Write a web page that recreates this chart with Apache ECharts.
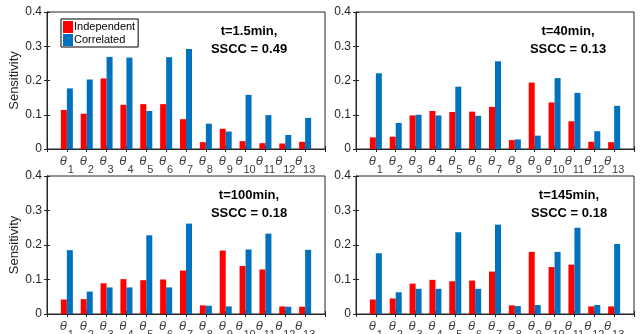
<!DOCTYPE html>
<html>
<head>
<meta charset="utf-8">
<script src="https://cdn.jsdelivr.net/npm/echarts@6/dist/echarts.min.js"></script>
<style>
  html, body { margin: 0; padding: 0; background: #fff; }
  #chart { width: 644px; height: 334px; }
</style>
</head>
<body>
<div id="chart"></div>
<script>
// parameter subscripts, theta_1 .. theta_13
var params = ['1', '2', '3', '4', '5', '6', '7', '8', '9', '10', '11', '12', '13'];
var yTicks = [0, 0.1, 0.2, 0.3, 0.4];

var panelTimes = ['1.5', '40', '100', '145'];
var panelSSCC = ['0.49', '0.13', '0.18', '0.18'];

var indep15 = [0.114, 0.103, 0.206, 0.129, 0.131, 0.131, 0.087, 0.020, 0.059, 0.023, 0.017, 0.016, 0.021];
var corr15  = [0.177, 0.203, 0.269, 0.267, 0.111, 0.268, 0.292, 0.074, 0.051, 0.158, 0.099, 0.041, 0.091];

var indep40 = [0.034, 0.036, 0.098, 0.111, 0.108, 0.109, 0.123, 0.026, 0.194, 0.136, 0.081, 0.021, 0.020];
var corr40  = [0.221, 0.076, 0.100, 0.098, 0.182, 0.097, 0.256, 0.028, 0.039, 0.207, 0.164, 0.052, 0.126];

var indep100 = [0.042, 0.043, 0.089, 0.101, 0.098, 0.100, 0.126, 0.025, 0.184, 0.139, 0.129, 0.022, 0.021];
var corr100  = [0.185, 0.065, 0.077, 0.077, 0.228, 0.077, 0.262, 0.024, 0.022, 0.187, 0.233, 0.021, 0.186];

var indep145 = [0.042, 0.045, 0.088, 0.099, 0.095, 0.097, 0.123, 0.025, 0.180, 0.136, 0.143, 0.022, 0.022];
var corr145  = [0.176, 0.063, 0.073, 0.073, 0.237, 0.073, 0.259, 0.023, 0.026, 0.180, 0.250, 0.026, 0.203];

var indepAll = [indep15, indep40, indep100, indep145];
var corrAll = [corr15, corr40, corr100, corr145];

var FONT = '"Liberation Sans", Arial, Helvetica, sans-serif';
var AX = '#262626';
var RED = '#ff0000';
var BLUE = '#0072bd';

var grids = [
  { left: 47, top: 12, width: 278, height: 137 },
  { left: 356, top: 12, width: 278, height: 137 },
  { left: 47, top: 176, width: 278, height: 138 },
  { left: 356, top: 176, width: 278, height: 138 }
];
// horizontal offset of each panel's annotation from its grid's left edge
var titleOffsets = [197, 207, 197, 208];

var xAxes = [], yAxes = [], series = [], titles = [];

grids.forEach(function (g, k) {
  g.show = true;
  g.borderColor = AX;
  g.borderWidth = 1;
  g.backgroundColor = '#fff';
  g.containLabel = false;
  g.outerBoundsMode = 'none';

  // bottom axis with theta labels
  xAxes.push({
    type: 'value', gridIndex: k, min: 0, max: 14, interval: 1,
    splitLine: { show: false },
    axisLine: { lineStyle: { color: AX } },
    axisTick: { inside: true, length: 3, lineStyle: { color: AX } },
    axisLabel: {
      margin: 6,
      formatter: function (v) {
        if (v < 1 || v > params.length) return '';
        return '{t|θ}{s|' + params[v - 1] + '}';
      },
      rich: {
        t: { fontFamily: FONT, fontStyle: 'italic', fontSize: 13, color: '#404040', verticalAlign: 'top' },
        s: { fontFamily: FONT, fontSize: 11, color: '#404040', padding: [9, 0, 0, 1], verticalAlign: 'top' }
      }
    }
  });
  // top mirror axis (ticks only)
  xAxes.push({
    type: 'value', gridIndex: k, min: 0, max: 14, interval: 1, position: 'top',
    splitLine: { show: false }, axisLabel: { show: false },
    axisLine: { lineStyle: { color: AX } },
    axisTick: { inside: true, length: 3, lineStyle: { color: AX } }
  });

  yAxes.push({
    type: 'value', gridIndex: k, min: yTicks[0], max: yTicks[yTicks.length - 1], interval: 0.1,
    name: (k % 2 === 0) ? 'Sensitivity' : '',
    nameLocation: 'middle', nameGap: 20,
    nameTextStyle: { fontFamily: FONT, fontSize: 13, color: AX },
    splitLine: { show: false },
    axisLine: { show: true, lineStyle: { color: AX } },
    axisTick: { show: true, inside: true, length: 3, lineStyle: { color: AX } },
    axisLabel: {
      margin: 5, fontFamily: FONT, fontSize: 12, color: AX,
      formatter: function (v) { return v === 0 ? '0' : v.toFixed(1); }
    }
  });
  yAxes.push({
    type: 'value', gridIndex: k, min: 0, max: 0.4, interval: 0.1, position: 'right',
    splitLine: { show: false }, axisLabel: { show: false },
    axisLine: { show: true, lineStyle: { color: AX } },
    axisTick: { show: true, inside: true, length: 3, lineStyle: { color: AX } }
  });

  series.push({
    name: 'Independent', type: 'bar', xAxisIndex: 2 * k, yAxisIndex: 2 * k,
    barWidth: 6, barGap: '0%', itemStyle: { color: RED },
    data: indepAll[k].map(function (v, i) { return [i + 1, v]; })
  });
  series.push({
    name: 'Correlated', type: 'bar', xAxisIndex: 2 * k, yAxisIndex: 2 * k,
    barWidth: 6, barGap: '0%', itemStyle: { color: BLUE },
    data: corrAll[k].map(function (v, i) { return [i + 1, v]; })
  });

  titles.push({
    text: 't=' + panelTimes[k] + 'min,\nSSCC = ' + panelSSCC[k],
    left: g.left + titleOffsets[k], top: g.top + 5, textAlign: 'center',
    textStyle: { fontFamily: FONT, fontSize: 13, fontWeight: 'bold', color: '#000', lineHeight: 18 }
  });
});

var chart = echarts.init(document.getElementById('chart'), null, { renderer: 'canvas' });
chart.setOption({
  animation: false,
  backgroundColor: '#fff',
  title: titles,
  legend: {
    data: ['Independent', 'Correlated'],
    orient: 'vertical', left: 61, top: 19,
    itemWidth: 10, itemHeight: 12, itemGap: 1,
    padding: [2, 3, 1, 2],
    borderColor: '#000', borderWidth: 1, backgroundColor: '#fff',
    icon: 'rect',
    textStyle: { fontFamily: FONT, fontSize: 11, color: '#000', padding: [0, 0, 0, -4] }
  },
  grid: grids,
  xAxis: xAxes,
  yAxis: yAxes,
  series: series
});
</script>
</body>
</html>
